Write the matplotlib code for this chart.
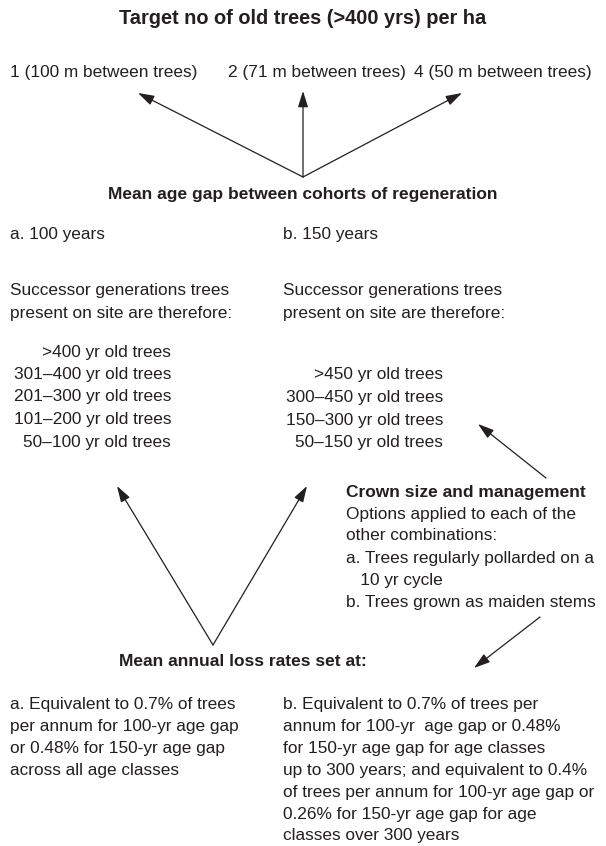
import matplotlib
matplotlib.use("Agg")
import matplotlib.pyplot as plt

FAM = ['Liberation Sans', 'DejaVu Sans']
COL = '#231f20'
FS = 12.4
FSB = 12.5

title = "Target no of old trees (>400 yrs) per ha"
density_options = ["1 (100 m between trees)", "2 (71 m between trees)", "4 (50 m between trees)"]
gap_heading = "Mean age gap between cohorts of regeneration"
gap_options = ["a. 100 years", "b. 150 years"]
successor_text = ["Successor generations trees", "present on site are therefore:"]
classes_100 = [">400 yr old trees", "301\u2013400 yr old trees", "201\u2013300 yr old trees",
               "101\u2013200 yr old trees", "50\u2013100 yr old trees"]
classes_150 = [">450 yr old trees", "300\u2013450 yr old trees", "150\u2013300 yr old trees",
               "50\u2013150 yr old trees"]
crown_heading = "Crown size and management"
crown_lines = ["Options applied to each of the", "other combinations:",
               "a. Trees regularly pollarded on a", "   10 yr cycle",
               "b. Trees grown as maiden stems"]
loss_heading = "Mean annual loss rates set at:"
loss_a = ["a. Equivalent to 0.7% of trees", "per annum for 100-yr age gap",
          "or 0.48% for 150-yr age gap", "across all age classes"]
loss_b = ["b. Equivalent to 0.7% of trees per", "annum for 100-yr  age gap or 0.48%",
          "for 150-yr age gap for age classes", "up to 300 years; and equivalent to 0.4%",
          "of trees per annum for 100-yr age gap or", "0.26% for 150-yr age gap for age",
          "classes over 300 years"]

fig = plt.figure(figsize=(6.06, 8.46), dpi=100)
ax = fig.add_axes([0, 0, 1, 1])
ax.set_xlim(0, 606)
ax.set_ylim(846, 0)
ax.axis('off')


def txt(x, y, s, ha='left', bold=False, size=None):
    ax.text(x, y, s, ha=ha, va='center', color=COL, family=FAM,
            fontsize=size or (FSB if bold else FS),
            fontweight='bold' if bold else 'normal')


def arrow(x0, y0, x1, y1):
    ax.annotate('', xy=(x1, y1), xytext=(x0, y0),
                arrowprops=dict(arrowstyle='-|>,head_length=0.7,head_width=0.22',
                                lw=0.9, color=COL, shrinkA=0, shrinkB=0,
                                mutation_scale=14))


LH = 22.3
txt(303, 18, title, ha='center', bold=True, size=14.4)
for x, s in zip([10, 228, 414], density_options):
    txt(x, 73, s)
arrow(303, 177, 138, 93)
arrow(303, 177, 303, 91)
arrow(303, 177, 462, 93)
txt(303, 195, gap_heading, ha='center', bold=True)
txt(10, 235, gap_options[0])
txt(283, 235, gap_options[1])
for i, s in enumerate(successor_text):
    txt(10, 291 + i * LH, s)
    txt(283, 291 + i * LH, s)
for i, s in enumerate(classes_100):
    txt(171, 352 + i * 22.5, s, ha='right')
for i, s in enumerate(classes_150):
    txt(443, 375 + i * 22.5, s, ha='right')
arrow(546, 478, 478, 424)
txt(346, 492, crown_heading, bold=True)
for i, s in enumerate(crown_lines):
    txt(346, 514 + i * 22, s)
arrow(213, 645, 117, 486)
arrow(213, 645, 307, 486)
arrow(540, 617, 474, 668)
txt(243, 661, loss_heading, ha='center', bold=True)
for i, s in enumerate(loss_a):
    txt(10, 705 + i * 21.8, s)
for i, s in enumerate(loss_b):
    txt(283, 705 + i * 21.8, s)

fig.savefig('out.png', dpi=100, facecolor='white')
